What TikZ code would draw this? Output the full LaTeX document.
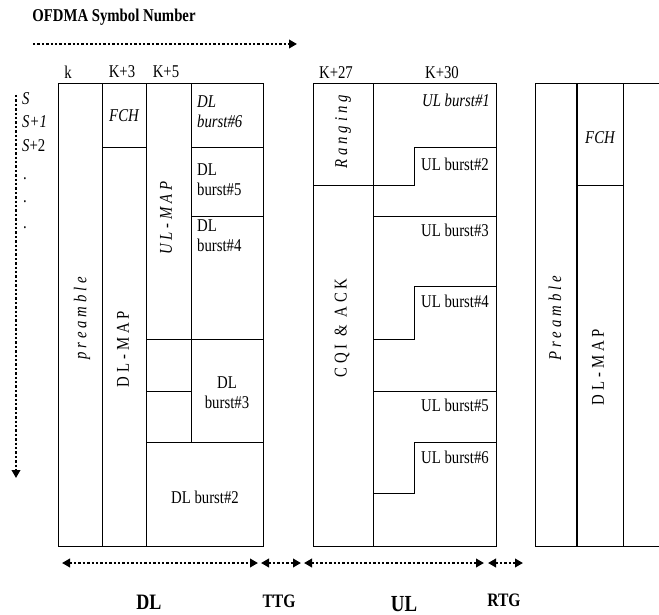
\documentclass[tikz,border=0pt]{standalone}
\usepackage{fontspec}
\setmainfont{Liberation Serif}[FakeStretch=0.82]
\newfontfamily\spacedfont{Liberation Serif}[FakeStretch=0.82,LetterSpace=22]
\usetikzlibrary{arrows.meta}

\tikzset{
  cellline/.style={line width=1pt},
  lbl/.style={font=\fontsize{18}{20}\selectfont, inner sep=0pt},
  vlbl/.style={font=\spacedfont\fontsize{18}{20}\selectfont, rotate=90, inner sep=0pt},
  dotline/.style={line width=2.8pt, dash pattern=on 2.4pt off 2pt},
  onearrow/.style={-{Triangle[length=8pt,width=8.5pt]}},
  twoarrow/.style={{Triangle[length=8pt,width=8.5pt]}-{Triangle[length=8pt,width=8.5pt]}}
}

\begin{document}
\begin{tikzpicture}[x=1pt,y=-1pt]
  \useasboundingbox (0,0) rectangle (659,615);

  % axes
  \node[lbl, font=\bfseries\fontsize{18}{20}\selectfont] (title) at (114,17) {OFDMA Symbol Number};
  \coordinate (topA) at (33,44);
  \coordinate (topB) at (297,44);
  \draw[dotline, onearrow] (topA) -- (topB);
  \coordinate (leftA) at (16,95);
  \coordinate (leftB) at (16,478);
  \draw[dotline, onearrow] (leftA) -- (leftB);

  \node[lbl] (ck) at (68,72) {k};
  \node[lbl] (ck3) at (122,72) {K+3};
  \node[lbl] (ck5) at (166,72) {K+5};
  \node[lbl] (ck27) at (336,73) {K+27};
  \node[lbl] (ck30) at (442,73) {K+30};

  \node[lbl, anchor=west] (rs) at (22,99) {\itshape S};
  \node[lbl, anchor=west] (rs1) at (22,122) {\itshape S+1};
  \node[lbl, anchor=west] (rs2) at (22,146) {\textit{S}+2};
  \node[lbl, anchor=base] (dot1) at (25,180) {.};
  \node[lbl, anchor=base] (dot2) at (25,203) {.};
  \node[lbl, anchor=base] (dot3) at (25,228) {.};

  % DL subframe
  \draw[cellline] (58,84) rectangle (263,546);
  \draw[cellline] (102,84) -- (102,546) (146,84) -- (146,546) (191,84) -- (191,442);
  \draw[cellline] (102,148) -- (146,148) (191,148) -- (263,148) (191,216) -- (263,216);
  \draw[cellline] (146,339) -- (263,339) (146,391) -- (191,391) (146,442) -- (263,442);

  \node[vlbl] (pre) at (82,318) {\itshape preamble};
  \node[lbl] (fch) at (124,116) {\itshape FCH};
  \node[vlbl] (dlmap) at (123,349) {DL-MAP};
  \node[vlbl] (ulmap) at (166,218) {\itshape UL-MAP};
  \node[lbl, anchor=west, align=left] (dl6) at (197,112) {\itshape DL\\\itshape burst\#6};
  \node[lbl, anchor=west, align=left] (dl5) at (197,180) {DL\\burst\#5};
  \node[lbl, anchor=west, align=left] (dl4) at (197,236) {DL\\burst\#4};
  \node[lbl, align=center] (dl3) at (227,393) {DL\\burst\#3};
  \node[lbl] (dl2) at (205,497) {DL burst\#2};

  % UL subframe
  \draw[cellline] (313,84) rectangle (496,546);
  \draw[cellline] (373,84) -- (373,546) (313,186) -- (373,186);
  \draw[cellline] (373,186) -- (414,186) -- (414,148) -- (496,148);
  \draw[cellline] (373,216) -- (496,216);
  \draw[cellline] (373,339) -- (414,339) -- (414,286) -- (496,286);
  \draw[cellline] (373,391) -- (496,391);
  \draw[cellline] (373,493) -- (414,493) -- (414,442) -- (496,442);

  \node[vlbl] (rng) at (343,132) {\itshape Ranging};
  \node[vlbl] (cqi) at (342,328) {CQI \& ACK};
  \node[lbl, anchor=east] (ul1) at (490,100) {\itshape UL burst\#1};
  \node[lbl, anchor=east] (ul2) at (489,164) {UL burst\#2};
  \node[lbl, anchor=east] (ul3) at (489,230) {UL burst\#3};
  \node[lbl, anchor=east] (ul4) at (489,301) {UL burst\#4};
  \node[lbl, anchor=east] (ul5) at (489,405) {UL burst\#5};
  \node[lbl, anchor=east] (ul6) at (489,457) {UL burst\#6};

  % next frame
  \draw[cellline] (659,84) -- (535,84) -- (535,546) -- (659,546);
  \draw[cellline, line width=1.8pt] (577,84) -- (577,546);
  \draw[cellline] (623,84) -- (623,546) (577,186) -- (623,186);
  \node[vlbl] (pre2) at (555,318) {\itshape Preamble};
  \node[lbl] (fch2) at (600,138) {\itshape FCH};
  \node[vlbl] (dlmap2) at (598,367) {DL-MAP};

  % time spans
  \coordinate (dlA) at (62,563);
  \coordinate (dlB) at (258,563);
  \coordinate (ttgA) at (261,563);
  \coordinate (ttgB) at (301,563);
  \coordinate (ulA) at (304,563);
  \coordinate (ulB) at (484,563);
  \coordinate (rtgA) at (488,563);
  \coordinate (rtgB) at (523,563);
  \draw[dotline, twoarrow] (dlA) -- (dlB);
  \draw[dotline, twoarrow] (ttgA) -- (ttgB);
  \draw[dotline, twoarrow] (ulA) -- (ulB);
  \draw[dotline, twoarrow] (rtgA) -- (rtgB);

  \node[lbl, font=\bfseries\fontsize{22}{24}\selectfont] (dl) at (149,602) {DL};
  \node[lbl, font=\bfseries\fontsize{19}{21}\selectfont] (ttg) at (279,601) {TTG};
  \node[lbl, font=\bfseries\fontsize{23}{25}\selectfont] (ul) at (404,604) {UL};
  \node[lbl, font=\bfseries\fontsize{19}{21}\selectfont] (rtg) at (504,600) {RTG};
\end{tikzpicture}
\end{document}
